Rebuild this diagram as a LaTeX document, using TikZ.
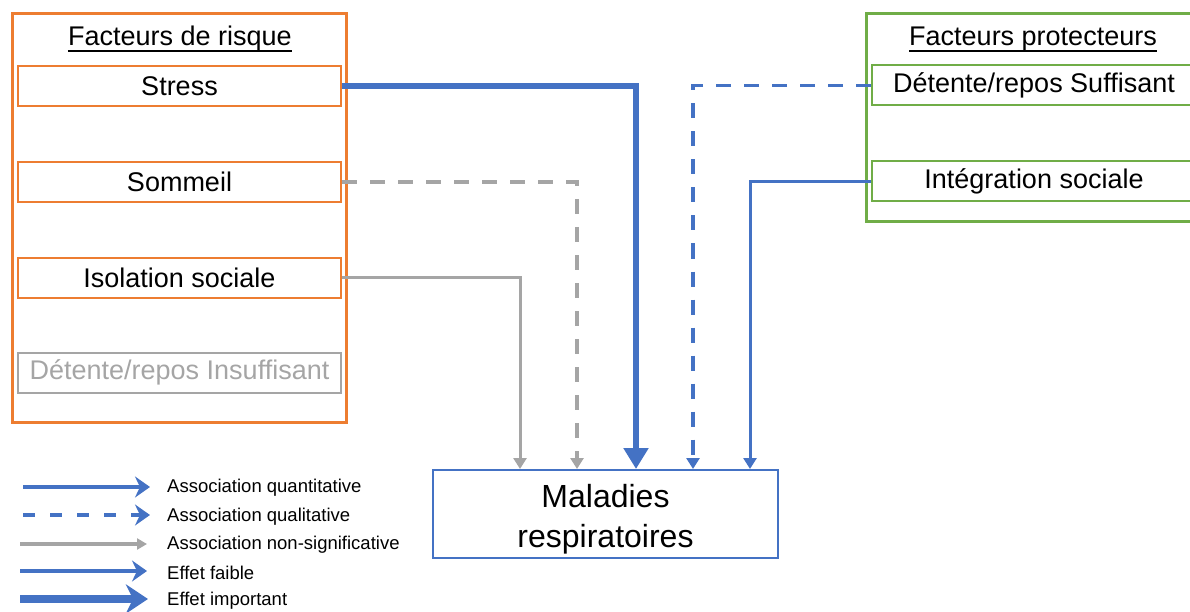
\documentclass[tikz,border=0pt]{standalone}
\usepackage{fontspec}
\setmainfont{Liberation Sans}
\usetikzlibrary{arrows.meta}
\definecolor{ublue}{HTML}{4472C4}
\definecolor{uorange}{HTML}{ED7D31}
\definecolor{ugreen}{HTML}{70AD47}
\definecolor{ugray}{HTML}{A5A5A5}
\tikzset{
  riskbox/.style={draw=uorange, line width=2pt, minimum width=323pt, minimum height=40pt, inner sep=0pt, font=\fontsize{27}{32}\selectfont},
  protbox/.style={draw=ugreen, line width=2pt, minimum width=324pt, minimum height=40pt, inner sep=0pt, font=\fontsize{27}{32}\selectfont},
  titletext/.style={inner sep=0pt, anchor=base, font=\fontsize{27}{32}\selectfont},
  legtext/.style={anchor=west, inner sep=0pt, font=\fontsize{18.5}{22}\selectfont},
  qualdash/.style={dash pattern=on 15pt off 13pt},
  smalltip/.style={-{Triangle[length=11pt,width=13pt]}},
  chev/.style={-{Stealth[length=15pt,width=21pt,inset=5pt]}},
}
\begin{document}
\begin{tikzpicture}[x=1pt,y=-1pt]
\useasboundingbox (0,0) rectangle (1190,612);
% outer group boxes
\draw[uorange, line width=3pt] (12,14) rectangle (346,422);
\draw[ugreen, line width=3pt] (866,14) rectangle (1200,222);
% titles
\node[titletext] (t1) at (180,46) {Facteurs de risque};
\draw[line width=1.2pt] ([yshift=-5pt]t1.base west) -- ([yshift=-5pt]t1.base east);
\node[titletext] (t2) at (1033,46) {Facteurs protecteurs};
\draw[line width=1.2pt] ([yshift=-5pt]t2.base west) -- ([yshift=-5pt]t2.base east);
% risk factors
\node[riskbox] (stress) at (179.5,86) {Stress};
\node[riskbox] (sommeil) at (179.5,182) {Sommeil};
\node[riskbox] (iso) at (179.5,277.5) {Isolation sociale};
\node[riskbox, draw=ugray, text=ugray] (detins) at (179.5,372.5) {Détente/repos Insuffisant};
% protective factors
\node[protbox] (detsuf) at (1034,85.5) {Détente/repos Suffisant};
\node[protbox] (integ) at (1034,181.5) {Intégration sociale};
% outcome
\node[draw=ublue, line width=2pt, minimum width=345pt, minimum height=88pt] (mal) at (605.5,514) {};
\node[align=center, inner sep=0pt, font=\fontsize{32}{40}\selectfont] (maltext) at ([yshift=-5pt]mal.center) {Maladies\\respiratoires};
% connectors
\draw[ugray, line width=3pt, smalltip] (iso.east) -| ([xshift=-85.5pt]mal.north);
\draw[ugray, line width=3.5pt, qualdash, smalltip] (sommeil.east) -| ([xshift=-28.5pt]mal.north);
\draw[ublue, line width=6.5pt, -{Triangle[length=21pt,width=24pt]}] (stress.east) -| ([xshift=30.5pt]mal.north);
\draw[ublue, line width=3.5pt, qualdash, smalltip] (detsuf.west) -| ([xshift=87.5pt]mal.north);
\draw[ublue, line width=3pt, smalltip] (integ.west) -| ([xshift=144.5pt]mal.north);
% legend
\coordinate (l1a) at (23,487); \coordinate (l1b) at (150,487);
\coordinate (l2a) at (23,515); \coordinate (l2b) at (150,515);
\coordinate (l3a) at (20,544); \coordinate (l3b) at (147,544);
\coordinate (l4a) at (20,571); \coordinate (l4b) at (147,571);
\coordinate (l5a) at (20,599); \coordinate (l5b) at (148,599);
\draw[ublue, line width=3.5pt, chev] (l1a) -- (l1b);
\draw[ublue, line width=3.5pt, dash pattern=on 12pt off 15pt, chev] (l2a) -- (l2b);
\draw[ugray, line width=4pt, -{Triangle[length=10pt,width=11pt]}] (l3a) -- (l3b);
\draw[ublue, line width=3.5pt, chev] (l4a) -- (l4b);
\draw[ublue, line width=8pt, -{Stealth[length=22pt,width=29pt,inset=7pt]}] (l5a) -- (l5b);
\node[legtext] (g1) at (167,488) {Association quantitative};
\node[legtext] (g2) at (167,517) {Association qualitative};
\node[legtext] (g3) at (167,545) {Association non-significative};
\node[legtext] (g4) at (167,573) {Effet faible};
\node[legtext] (g5) at (167,601) {Effet important};
\end{tikzpicture}
\end{document}
